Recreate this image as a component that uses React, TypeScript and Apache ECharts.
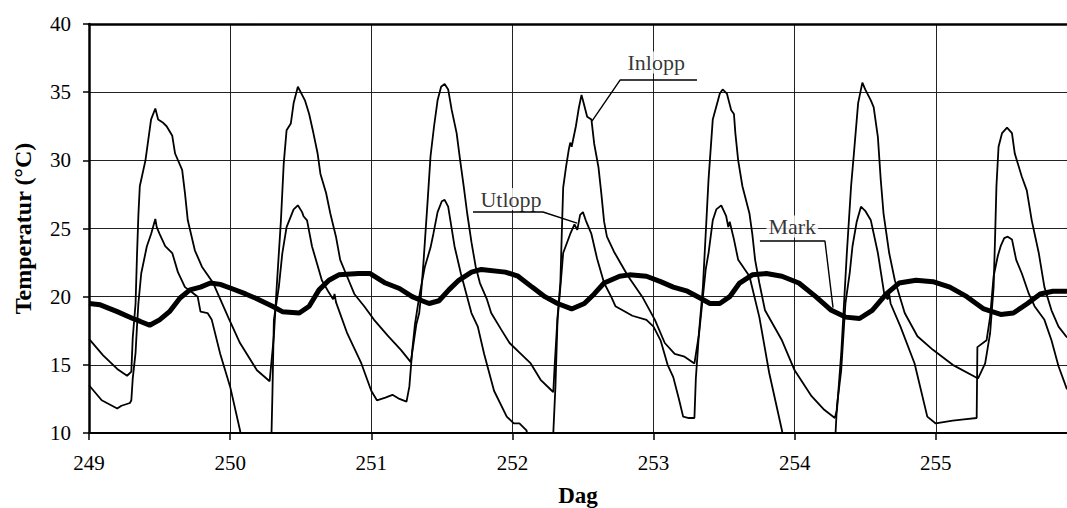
import React, { useEffect, useRef } from "react";
import * as echarts from "echarts";

const FONT = "'Liberation Serif', 'Times New Roman', serif";

const xTicks = [249, 250, 251, 252, 253, 254, 255];
const yTicks = [10, 15, 20, 25, 30, 35, 40];

const inlopp: [number, number][] = [
  [249.0, 16.9], [249.1, 15.7], [249.2, 14.7], [249.27, 14.2], [249.3, 14.5], [249.31, 17.0], [249.33, 19.5],
  [249.34, 23.0], [249.35, 26.0], [249.36, 28.1], [249.4, 30.0], [249.42, 31.5], [249.44, 33.0], [249.47, 33.8],
  [249.49, 33.0], [249.52, 32.8], [249.55, 32.5], [249.59, 31.8], [249.61, 30.5], [249.66, 29.3], [249.68, 27.6],
  [249.7, 25.6], [249.75, 23.4], [249.8, 22.2], [249.88, 21.0], [249.99, 18.4], [250.07, 16.6], [250.19, 14.6],
  [250.28, 13.8], [250.31, 17.1], [250.33, 20.7], [250.36, 25.6], [250.38, 29.8], [250.4, 32.2], [250.43, 32.7],
  [250.45, 34.2], [250.48, 35.4], [250.51, 34.8], [250.53, 34.4], [250.56, 33.4], [250.59, 32.0], [250.62, 30.5],
  [250.64, 29.0], [250.68, 27.6], [250.71, 26.1], [250.75, 24.4], [250.78, 22.7], [250.82, 21.7], [250.88, 20.2],
  [250.95, 19.3], [251.02, 18.3], [251.12, 17.1], [251.21, 16.1], [251.28, 15.2], [251.3, 16.6], [251.32, 18.0],
  [251.34, 18.8], [251.35, 19.8], [251.37, 22.5], [251.4, 27.1], [251.42, 30.3], [251.445, 32.5], [251.47, 34.4],
  [251.495, 35.4], [251.52, 35.6], [251.545, 35.2], [251.57, 33.7], [251.605, 32.0], [251.63, 30.0], [251.655, 28.1],
  [251.68, 26.1], [251.71, 24.0], [251.74, 22.2], [251.77, 21.0], [251.82, 19.8], [251.85, 18.8], [251.92, 17.6],
  [251.98, 16.6], [252.06, 15.8], [252.13, 15.1], [252.2, 13.9], [252.28, 13.1], [252.29, 13.0], [252.3, 15.0],
  [252.32, 18.5], [252.34, 21.0], [252.35, 24.6], [252.36, 28.0], [252.38, 29.5], [252.4, 30.8], [252.41, 31.3],
  [252.42, 31.0], [252.45, 32.5], [252.47, 33.8], [252.49, 34.8], [252.51, 34.0], [252.53, 33.2], [252.56, 33.0],
  [252.58, 31.2], [252.61, 29.5], [252.63, 27.6], [252.65, 25.5], [252.67, 24.4], [252.72, 23.3], [252.77, 22.4],
  [252.82, 21.5], [252.92, 20.0], [253.01, 18.3], [253.08, 16.6], [253.15, 15.8], [253.22, 15.6], [253.29, 15.1],
  [253.32, 17.1], [253.35, 20.7], [253.375, 25.6], [253.39, 28.6], [253.42, 33.0], [253.47, 34.9], [253.49, 35.2],
  [253.52, 34.9], [253.55, 33.7], [253.57, 33.4], [253.58, 32.0], [253.6, 30.0], [253.63, 28.1], [253.68, 26.1],
  [253.7, 24.6], [253.72, 22.7], [253.75, 21.0], [253.79, 19.0], [253.91, 16.8], [254.0, 14.6], [254.12, 12.7],
  [254.21, 11.7], [254.285, 11.1], [254.3, 11.7], [254.33, 15.8], [254.35, 19.5], [254.37, 23.2], [254.4, 28.1],
  [254.42, 30.5], [254.45, 34.2], [254.48, 35.7], [254.5, 35.2], [254.54, 34.4], [254.56, 33.9], [254.59, 31.7],
  [254.61, 28.6], [254.63, 26.1], [254.67, 23.2], [254.71, 21.2], [254.78, 18.8], [254.87, 17.1], [254.98, 16.1],
  [255.12, 15.0], [255.3, 14.0], [255.35, 15.1], [255.385, 17.3], [255.41, 20.7], [255.42, 24.2], [255.43, 28.1],
  [255.445, 31.0], [255.47, 32.0], [255.505, 32.4], [255.54, 32.0], [255.56, 30.5], [255.61, 28.8], [255.645, 27.8],
  [255.68, 25.6], [255.73, 23.2], [255.77, 20.7], [255.82, 19.0], [255.87, 17.8], [255.93, 17.0],
];

const utlopp: [number, number][] = [
  [249.0, 13.5], [249.09, 12.4], [249.2, 11.8], [249.23, 12.0], [249.29, 12.2], [249.3, 12.4], [249.31, 14.0],
  [249.33, 15.9], [249.34, 17.8], [249.35, 19.5], [249.37, 21.7], [249.41, 23.7], [249.44, 24.6], [249.47, 25.7],
  [249.48, 25.1], [249.5, 24.6], [249.54, 23.7], [249.59, 23.2], [249.63, 21.8], [249.68, 20.7], [249.72, 20.4],
  [249.77, 20.0], [249.79, 18.9], [249.84, 18.8], [249.87, 18.3], [249.93, 15.8], [250.0, 13.4], [250.07, 10.2],
  [250.1, 8.5], [250.29, 8.5], [250.3, 13.0], [250.31, 18.3], [250.345, 20.7], [250.37, 23.2], [250.4, 25.1],
  [250.45, 26.4], [250.48, 26.7], [250.51, 26.2], [250.52, 25.9], [250.545, 25.6], [250.58, 23.7], [250.65, 21.2],
  [250.7, 20.3], [250.73, 19.8], [250.74, 20.2], [250.75, 19.6], [250.83, 17.3], [250.93, 15.1], [251.0, 13.1],
  [251.04, 12.4], [251.1, 12.6], [251.15, 12.8], [251.2, 12.5], [251.25, 12.3], [251.27, 13.4], [251.29, 16.0],
  [251.31, 18.0], [251.34, 20.0], [251.38, 22.2], [251.42, 23.6], [251.44, 24.6], [251.47, 26.2], [251.5, 27.0],
  [251.52, 27.1], [251.545, 26.6], [251.59, 23.7], [251.635, 21.7], [251.71, 18.8], [251.755, 17.8], [251.8, 15.8],
  [251.87, 13.1], [251.96, 11.2], [252.01, 10.7], [252.05, 10.7], [252.1, 10.2], [252.13, 8.5], [252.28, 8.5],
  [252.29, 10.0], [252.305, 13.4], [252.32, 18.3], [252.34, 20.7], [252.36, 23.2], [252.41, 24.6], [252.44, 25.3],
  [252.46, 24.9], [252.48, 26.0], [252.5, 26.2], [252.52, 25.6], [252.56, 24.6], [252.6, 22.8], [252.65, 21.0],
  [252.7, 20.0], [252.73, 19.3], [252.8, 18.9], [252.85, 18.6], [252.95, 18.3], [253.0, 17.8], [253.05, 16.8],
  [253.1, 15.0], [253.14, 14.1], [253.18, 12.5], [253.21, 11.2], [253.25, 11.1], [253.29, 11.1], [253.3, 14.0],
  [253.32, 17.0], [253.35, 20.0], [253.37, 22.0], [253.39, 23.2], [253.42, 25.6], [253.445, 26.4], [253.48, 26.7],
  [253.515, 25.9], [253.53, 25.1], [253.54, 25.5], [253.57, 24.2], [253.6, 22.7], [253.68, 21.5], [253.75, 18.5],
  [253.82, 14.4], [253.91, 10.2], [253.94, 8.5], [254.28, 8.5], [254.29, 10.0], [254.3, 12.0], [254.33, 14.6],
  [254.36, 19.5], [254.39, 21.7], [254.41, 23.7], [254.44, 25.5], [254.47, 26.6], [254.5, 26.3], [254.54, 25.6],
  [254.59, 23.2], [254.635, 20.2], [254.66, 19.8], [254.67, 20.2], [254.68, 19.5], [254.75, 17.8], [254.85, 15.1],
  [254.94, 11.2], [255.0, 10.7], [255.12, 10.9], [255.2, 11.0], [255.29, 11.1], [255.295, 16.3], [255.36, 16.8],
  [255.385, 18.5], [255.41, 21.5], [255.44, 23.0], [255.46, 23.7], [255.485, 24.3], [255.51, 24.4], [255.54, 24.2],
  [255.57, 22.7], [255.61, 21.7], [255.66, 20.2], [255.7, 19.3], [255.77, 18.3], [255.82, 16.8], [255.87, 14.9],
  [255.93, 13.2],
];

const mark: [number, number][] = [
  [249.0, 19.5], [249.08, 19.4], [249.2, 18.9], [249.31, 18.4], [249.36, 18.2], [249.43, 17.9], [249.5, 18.3],
  [249.57, 18.9], [249.645, 19.9], [249.715, 20.5], [249.79, 20.7], [249.86, 21.0], [249.93, 20.9], [250.01, 20.6],
  [250.11, 20.2], [250.2, 19.8], [250.3, 19.3], [250.37, 18.9], [250.49, 18.8], [250.56, 19.3], [250.63, 20.5],
  [250.7, 21.2], [250.77, 21.6], [250.91, 21.7], [250.99, 21.7], [251.1, 21.0], [251.2, 20.6], [251.29, 20.0],
  [251.36, 19.7], [251.41, 19.5], [251.48, 19.7], [251.55, 20.5], [251.62, 21.2], [251.71, 21.8], [251.78, 22.0],
  [251.95, 21.8], [252.04, 21.5], [252.14, 20.7], [252.23, 20.0], [252.32, 19.5], [252.42, 19.1], [252.51, 19.5],
  [252.58, 20.2], [252.65, 21.0], [252.76, 21.5], [252.83, 21.6], [252.95, 21.5], [253.05, 21.1], [253.14, 20.7],
  [253.24, 20.4], [253.33, 19.9], [253.4, 19.5], [253.47, 19.5], [253.54, 20.0], [253.61, 21.0], [253.7, 21.6],
  [253.8, 21.7], [253.91, 21.5], [254.03, 21.0], [254.15, 20.0], [254.26, 19.0], [254.36, 18.5], [254.46, 18.4],
  [254.55, 19.0], [254.65, 20.2], [254.74, 21.0], [254.86, 21.2], [254.98, 21.1], [255.1, 20.7], [255.22, 20.0],
  [255.34, 19.1], [255.46, 18.7], [255.55, 18.8], [255.65, 19.5], [255.74, 20.2], [255.83, 20.4], [255.93, 20.4],
];

const labelNames = ["Inlopp", "Utlopp", "Mark"];
const labelAnchors: [number, number][] = [[252.812, 37.18], [251.77, 27.16], [253.811, 25.15]];
const leaderInlopp: [number, number][] = [[253.308, 35.89], [252.763, 35.89], [252.564, 32.88]];
const leaderUtlopp: [number, number][] = [[251.721, 26.21], [252.217, 26.21], [252.458, 25.4]];
const leaderMark: [number, number][] = [[253.754, 24.08], [254.215, 24.08], [254.272, 19.2]];

export default function App() {
  const ref = useRef<HTMLDivElement>(null);
  useEffect(() => {
    if (!ref.current) return;
    const chart = echarts.init(ref.current, null, { renderer: "svg" });
    const thin = (name: string, data: [number, number][], width: number) => ({
      name,
      type: "line",
      data,
      showSymbol: false,
      symbol: "none",
      lineStyle: { color: "#000", width },
      z: 3,
      silent: true,
    });
    chart.setOption({
      animation: false,
      backgroundColor: "#fff",
      grid: { left: 89, right: 0, top: 24, bottom: 75, containLabel: false, outerBoundsMode: "none" },
      xAxis: [
        {
          type: "value",
          min: 249,
          max: 255.93,
          interval: 1,
          axisLine: { show: true, lineStyle: { color: "#000", width: 2 } },
          axisTick: { show: true, length: 7, lineStyle: { color: "#000", width: 1.5 } },
          axisLabel: {
            color: "#000",
            fontSize: 21,
            fontFamily: FONT,
            margin: 19,
            showMaxLabel: false,
            formatter: (v: number) => (xTicks.includes(v) ? String(v) : ""),
          },
          splitLine: { show: true, lineStyle: { color: "#222", width: 1 } },
          name: "Dag",
          nameLocation: "middle",
          nameGap: 51,
          nameTextStyle: { fontSize: 23, fontWeight: "bold", fontFamily: FONT, color: "#000" },
        },
        {
          type: "value",
          position: "top",
          min: 249,
          max: 255.93,
          axisLine: { show: true, lineStyle: { color: "#000", width: 2.5 } },
          axisTick: { show: false },
          axisLabel: { show: false },
          splitLine: { show: false },
        },
      ],
      yAxis: {
        type: "value",
        min: 10,
        max: 40,
        interval: 5,
        axisLine: { show: true, lineStyle: { color: "#000", width: 2.5 } },
        axisTick: { show: true, length: 6, lineStyle: { color: "#000", width: 1.5 } },
        axisLabel: {
          color: "#000",
          fontSize: 21,
          fontFamily: FONT,
          margin: 18,
          formatter: (v: number) => (yTicks.includes(v) ? String(v) : ""),
        },
        splitLine: { show: true, lineStyle: { color: "#222", width: 1 } },
        name: "Temperatur (°C)",
        nameLocation: "middle",
        nameGap: 54,
        nameRotate: 90,
        nameTextStyle: { fontSize: 24, fontWeight: "bold", fontFamily: FONT, color: "#000" },
      },
      series: [
        thin("Mark", mark, 5),
        thin("Inlopp", inlopp, 1.8),
        thin("Utlopp", utlopp, 1.8),
        thin("leaderInlopp", leaderInlopp, 1.4),
        thin("leaderUtlopp", leaderUtlopp, 1.4),
        thin("leaderMark", leaderMark, 1.4),
        {
          type: "scatter",
          data: labelAnchors.map((p, i) => ({ value: p, name: labelNames[i] })),
          symbolSize: 1,
          itemStyle: { color: "rgba(0,0,0,0)" },
          silent: true,
          z: 10,
          label: {
            show: true,
            position: "right",
            distance: -2,
            formatter: (p: any) => p.name,
            color: "#000",
            fontSize: 22,
            fontFamily: FONT,
            backgroundColor: "#fff",
            padding: [0, 2],
          },
        },
      ],
    });
    return () => chart.dispose();
  }, []);
  return (
    <div
      ref={ref}
      style={{ position: "fixed", left: 0, top: 0, width: 1067, height: 508, background: "#fff" }}
    />
  );
}
